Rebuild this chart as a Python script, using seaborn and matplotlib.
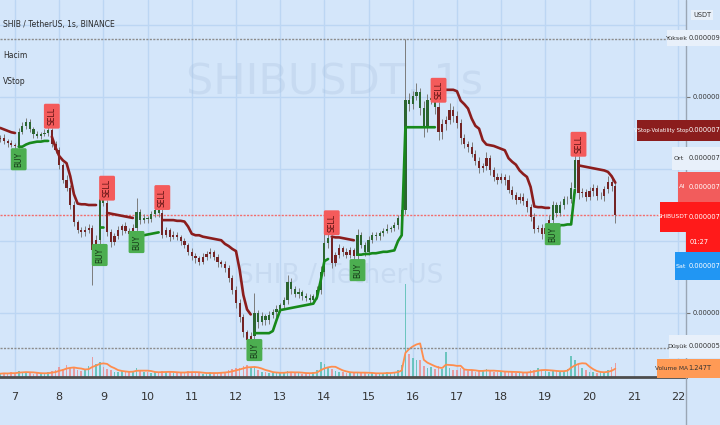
import matplotlib
matplotlib.use('Agg')
import matplotlib.pyplot as plt
from matplotlib import font_manager
from matplotlib.patches import Rectangle
from matplotlib.lines import Line2D
import numpy as np
import pandas as pd
import seaborn as sns

# 2 saatlik mumlar, ilk mum 6. gun 16:00
start_day = 6 + 16 / 24
bars_per_day = 12
days = list(range(7, 23))

# fiyatlar 1e-8 USDT biriminde
first_open = 841
closes = [
    843, 839, 836, 833, 832, 851, 860, 865, 855, 849,
    846, 849, 850, 854, 835, 826, 806, 785, 774, 750,
    726, 715, 712, 715, 718, 687, 701, 758, 753, 712,
    699, 707, 715, 721, 714, 710, 718, 740, 729, 732,
    730, 737, 743, 739, 709, 715, 706, 709, 706, 700,
    694, 685, 679, 676, 671, 678, 682, 685, 678, 671,
    668, 662, 649, 632, 614, 594, 574, 562, 568, 600,
    587, 596, 590, 597, 601, 606, 611, 618, 643, 633,
    626, 629, 624, 621, 618, 624, 632, 657, 697, 704,
    670, 681, 690, 685, 681, 687, 679, 708, 694, 685,
    701, 708, 707, 711, 714, 717, 718, 722, 732, 743,
    896, 890, 901, 907, 885, 860, 896, 899, 886, 852,
    862, 868, 882, 874, 864, 843, 835, 831, 821, 811,
    801, 804, 815, 799, 789, 785, 789, 785, 771, 764,
    757, 761, 756, 747, 733, 717, 718, 710, 718, 729,
    750, 739, 750, 758, 758, 774, 812, 766, 768, 761,
    769, 774, 762, 762, 772, 782, 776, 736]
wick_up = [
    4, 5, 3, 4, 3, 6, 5, 6, 4, 3,
    4, 3, 5, 10, 3, 4, 5, 3, 6, 4,
    5, 3, 4, 6, 5, 4, 7, 9, 5, 4,
    5, 4, 6, 3, 5, 4, 6, 20, 4, 5,
    3, 5, 6, 4, 5, 4, 3, 5, 4, 3,
    4, 3, 5, 4, 3, 6, 4, 5, 3, 4,
    3, 4, 5, 4, 6, 5, 4, 3, 5, 28,
    4, 5, 3, 6, 4, 5, 3, 4, 10, 5,
    4, 6, 3, 4, 5, 3, 6, 8, 14, 6,
    5, 4, 6, 3, 5, 4, 3, 8, 5, 4,
    6, 4, 5, 3, 4, 6, 3, 5, 4, 8,
    84, 10, 8, 12, 6, 9, 8, 10, 6, 7,
    8, 6, 9, 5, 7, 5, 6, 4, 7, 5,
    6, 4, 8, 5, 4, 6, 5, 4, 6, 5,
    4, 6, 5, 4, 5, 6, 4, 5, 6, 7,
    5, 4, 6, 5, 4, 8, 35, 6, 5, 4,
    6, 5, 4, 6, 5, 8, 6, 4]
wick_dn = [
    3, 4, 5, 3, 6, 4, 3, 5, 4, 6,
    3, 4, 3, 4, 5, 4, 6, 5, 4, 6,
    5, 4, 6, 5, 4, 48, 5, 6, 4, 5,
    7, 5, 4, 6, 3, 5, 4, 5, 6, 4,
    5, 3, 4, 6, 5, 4, 6, 3, 5, 6,
    4, 5, 6, 7, 5, 3, 4, 6, 5, 7,
    4, 5, 6, 5, 7, 6, 8, 11, 6, 5,
    8, 4, 6, 5, 4, 6, 5, 4, 5, 6,
    4, 5, 6, 4, 5, 4, 5, 6, 5, 7,
    8, 5, 4, 6, 5, 4, 6, 5, 4, 6,
    5, 4, 6, 5, 4, 3, 5, 4, 6, 5,
    6, 9, 7, 5, 10, 15, 8, 6, 9, 12,
    10, 8, 6, 9, 7, 8, 6, 7, 5, 6,
    7, 5, 6, 8, 5, 6, 4, 7, 5, 6,
    5, 4, 6, 7, 5, 6, 5, 7, 4, 6,
    5, 6, 4, 5, 6, 5, 7, 8, 5, 6,
    4, 6, 5, 4, 6, 5, 7, 11]
# Volatility Stop degerleri
stops = [
    857, 855, 853, 851, 850, 831, 831, 834, 836, 837,
    838, 838, 839, 839, 845, 830, 818, 812, 808, 790,
    765, 752, 751, 751, 750, 750, 750, 719, 719, 739,
    738, 737, 736, 735, 734, 733, 732, 706, 707, 708,
    709, 710, 711, 712, 729, 729, 729, 729, 728, 728,
    727, 720, 710, 708, 708, 706, 705, 704, 703, 702,
    701, 696, 693, 689, 686, 660, 625, 605, 598, 572,
    572, 572, 572, 572, 575, 590, 604, 605, 606, 607,
    608, 609, 610, 611, 612, 613, 622, 645, 672, 675,
    706, 705, 705, 704, 703, 702, 701, 681, 681, 682,
    682, 683, 683, 684, 685, 685, 686, 687, 700, 708,
    858, 858, 858, 858, 858, 858, 858, 858, 858, 910,
    910, 910, 910, 910, 908, 895, 890, 884, 870, 860,
    856, 840, 834, 833, 832, 830, 828, 826, 815, 810,
    806, 798, 793, 789, 775, 748, 747, 747, 746, 746,
    711, 716, 722, 722, 723, 723, 771, 805, 804, 803,
    802, 801, 800, 799, 798, 796, 790, 781]
# hacim, trilyon SHIB
volume = [
    0.5, 0.6, 0.5, 0.7, 0.6, 0.9, 0.8, 0.7, 0.6, 0.5,
    0.6, 0.5, 0.6, 0.7, 0.9, 1.0, 1.5, 1.2, 1.8, 1.4,
    1.3, 1.0, 0.9, 1.1, 1.6, 3.0, 2.0, 2.2, 1.5, 1.2,
    1.0, 0.8, 0.7, 0.9, 0.8, 0.7, 0.9, 1.4, 1.0, 0.8,
    0.7, 0.6, 0.7, 0.8, 0.9, 0.8, 0.7, 0.6, 0.6, 0.7,
    0.8, 0.9, 0.7, 0.6, 0.6, 0.5, 0.6, 0.7, 0.6, 0.6,
    0.7, 0.8, 1.0, 1.2, 1.3, 1.4, 1.6, 1.8, 1.3, 1.5,
    1.0, 0.8, 0.7, 0.6, 0.6, 0.7, 0.6, 0.7, 0.9, 0.7,
    0.6, 0.6, 0.5, 0.6, 0.6, 0.7, 1.0, 2.2, 2.0, 1.4,
    1.2, 0.9, 0.8, 0.7, 0.6, 0.6, 0.7, 0.8, 0.6, 0.6,
    0.5, 0.6, 0.5, 0.6, 0.6, 0.7, 0.6, 0.8, 1.0, 1.8,
    14.0, 3.5, 2.8, 2.5, 2.6, 1.6, 1.3, 1.5, 1.2, 1.6,
    1.2, 3.8, 1.3, 1.0, 1.1, 1.3, 1.0, 0.9, 1.0, 0.8,
    0.9, 1.0, 1.2, 0.9, 0.8, 0.7, 0.8, 0.9, 0.8, 0.7,
    0.6, 0.7, 0.6, 0.8, 1.0, 1.1, 1.3, 1.0, 0.9, 0.8,
    0.9, 1.0, 0.8, 0.9, 1.2, 3.2, 2.6, 2.0, 1.4, 1.0,
    0.8, 0.7, 0.6, 0.7, 0.8, 1.1, 1.5, 2.135]
vol_ma_len = 5
grid_prices = [1000, 900, 800, 700, 600]
label_prices = [900, 600]   # digerleri etiketlerin altinda kaliyor
bid, ask, avg_price = 735, 736, 739
countdown = '01:27'

W, H = 720, 425
BG = '#d4e6fa'
GRID = '#bcd6f3'

sns.set_theme(style='white')
names = {f.name for f in font_manager.fontManager.ttflist}
NARROW = 'Liberation Sans Narrow' if 'Liberation Sans Narrow' in names else 'DejaVu Sans'
plt.rcParams['font.family'] = [NARROW, 'DejaVu Sans']

n = len(closes)
opens = [first_open] + closes[:-1]
highs = [max(o, c) + w for o, c, w in zip(opens, closes, wick_up)]
lows = [min(o, c) - w for o, c, w in zip(opens, closes, wick_dn)]
df = pd.DataFrame({'bar': np.arange(n), 'open': opens, 'close': closes,
                   'high': highs, 'low': lows, 'stop': stops, 'vol': volume})
df['trend'] = np.where(df['close'] >= df['stop'], 'up', 'down')
df['seg'] = (df['trend'] != df['trend'].shift()).cumsum()
df['vol_ma'] = df['vol'].rolling(vol_ma_len, min_periods=1).mean()
flips = df.index[(df['trend'] != df['trend'].shift()) & (df.index > 0)]

fig = plt.figure(figsize=(W / 100, H / 100), dpi=100, facecolor=BG)
ax_bottom = 377
ax = fig.add_axes([0, (H - ax_bottom) / H, 686 / W, ax_bottom / H])
axv = ax.twinx()
ax.set_zorder(2)
ax.patch.set_visible(False)
axv.set_facecolor(BG)

x_left = -0.27 / 3.683
x_right = (686 - 0.27) / 3.683
ax.set_xlim(x_left, x_right)
y_lo, y_hi = 900 - (ax_bottom - 97) / 0.72, 900 + 97 / 0.72
ax.set_ylim(y_lo, y_hi)

# hacim
vol_top = 57
up_bar = df['close'] >= df['open']
axv.bar(df['bar'], df['vol'], width=0.45, linewidth=0, edgecolor='none',
        color=np.where(up_bar, '#52bdb1', '#ee8a8a'), alpha=0.8, zorder=1)
sns.lineplot(data=df, x='bar', y='vol_ma', ax=axv, color='#ff8d4d', lw=1.3, zorder=2)
axv.set_ylim(0, vol_top)
axv.set_xlim(x_left, x_right)
axv.set_yticks([])
axv.set_ylabel('')
for s in axv.spines.values():
    s.set_visible(False)

# grid
for d in days:
    axv.axvline((d - start_day) * bars_per_day, color=GRID, lw=1, zorder=0)
for p in grid_prices:
    axv.axhline((p - y_lo) / (y_hi - y_lo) * vol_top, color=GRID, lw=1, zorder=0)

# watermark
ax.text(335 / 686, 1 - 82 / ax_bottom, 'SHIBUSDT, 1s', transform=ax.transAxes,
        ha='center', va='center', fontsize=31, color='#a9c1de', alpha=0.3, zorder=0)
ax.text(340 / 686, 1 - 276 / ax_bottom, 'SHIB / TetherUS', transform=ax.transAxes,
        ha='center', va='center', fontsize=19, color='#a9c1de', alpha=0.3, zorder=0)

# yatay cizgiler
ax.axhline(max(highs), color='#8c8c8c', lw=1, ls=(0, (1.5, 1)), zorder=1)
ax.axhline(min(lows), color='#8c8c8c', lw=1, ls=(0, (1.5, 1)), zorder=1)
ax.axhline(closes[-1], color='#f26d6d', lw=1, ls=(0, (1.5, 1)), zorder=1)

# mumlar
body_col = np.where(df['trend'] == 'up', '#2c6530', '#732424')
ax.vlines(df['bar'], df['low'], df['high'], color='#7c7c7c', lw=0.7, zorder=3)
body_h = np.maximum((df['close'] - df['open']).abs(), 1.0)
ax.bar(df['bar'], body_h, bottom=np.minimum(df['open'], df['close']), width=0.6,
       color=body_col, linewidth=0, edgecolor='none', zorder=4)

# VStop
sns.lineplot(data=df, x='bar', y='stop', hue='trend', units='seg', estimator=None,
             palette={'up': '#17891b', 'down': '#8b1d1d'}, lw=1.9, legend=False,
             ax=ax, zorder=5)

for i in flips:
    if df.at[i, 'trend'] == 'up':
        ax.annotate('BUY', xy=(i, df.at[i, 'low']), xytext=(0, -2), textcoords='offset points',
                    ha='center', va='top', rotation=90, fontsize=5.5, color='#173a19',
                    bbox=dict(boxstyle='round,pad=0.45,rounding_size=0.2', fc='#4cae50', ec='none'),
                    zorder=6)
    else:
        ax.annotate('SELL', xy=(i, df.at[i, 'high']), xytext=(0, 2), textcoords='offset points',
                    ha='center', va='bottom', rotation=90, fontsize=5.5, color='#5a1010',
                    bbox=dict(boxstyle='round,pad=0.45,rounding_size=0.2', fc='#f45b5b', ec='none'),
                    zorder=6)

# eksenler
ax.set_xlabel('')
ax.set_ylabel('')
ax.set_xticks([(d - start_day) * bars_per_day for d in days])
ax.set_xticklabels([str(d) for d in days])
ax.tick_params(axis='x', length=4, width=0.8, color='#777777', pad=6.5, labelsize=8,
               labelcolor='#333333')
ax.yaxis.tick_right()
ax.set_yticks(label_prices)
ax.set_yticklabels([f'{p * 1e-8:.8f}' for p in label_prices])
ax.tick_params(axis='y', length=3, width=0.8, color='#777777', pad=2, labelsize=4.8,
               labelcolor='#333333')
for s in ['top', 'left', 'right']:
    ax.spines[s].set_visible(False)
ax.spines['bottom'].set_color('#4d4d4d')
ax.spines['bottom'].set_linewidth(2)
fig.lines.append(Line2D([686 / W, 686 / W], [0, 1], transform=fig.transFigure,
                        color='#9aa6b4', lw=1, zorder=4))

# sol ust yazilar
fig.text(3 / W, 1 - 25 / H, 'SHIB / TetherUS, 1s, BINANCE', fontsize=5.5, color='#2a2a2a', va='center')
fig.text(3 / W, 1 - 55 / H, 'Hacim', fontsize=5.5, color='#2a2a2a', va='center')
fig.text(3 / W, 1 - 82 / H, 'VStop', fontsize=5.5, color='#2a2a2a', va='center')


def box(x0, y0, x1, y1, color):
    fig.patches.append(Rectangle((x0 / W, 1 - y1 / H), (x1 - x0) / W, (y1 - y0) / H,
                                 transform=fig.transFigure, fc=color, ec='none', zorder=5))


def tag(label, x0, y0, y1, color, tcolor, value, y2=None, size=4.6):
    box(x0, y0, 686, y1, color)
    box(686, y0, W, y2 if y2 else y1, color)
    fig.text((x0 + 686) / 2 / W, 1 - (y0 + y1) / 2 / H, label, fontsize=size, color=tcolor,
             ha='center', va='center', zorder=6)
    fig.text(688.5 / W, 1 - (y0 + y1) / 2 / H, value, fontsize=4.8, color=tcolor,
             ha='left', va='center', zorder=6)


fmt = lambda p: f'{p * 1e-8:.8f}'
tag('Yüksek', 667, 30, 46, '#e8f0fa', '#333333', fmt(max(highs)))
tag('VStop·Volatility Stop', 637, 120, 141, '#8b1d1d', 'white', fmt(stops[-1]), size=3.9)
tag('Ort', 672, 147, 170, '#e8f0fa', '#333333', fmt(avg_price))
tag('Al', 678, 172, 202, '#f25c5c', 'white', fmt(ask))
tag('SHIBUSDT', 660, 202, 232, '#ff1a1a', 'white', fmt(closes[-1]), y2=252, size=4.3)
fig.text(690 / W, 1 - 242 / H, countdown, fontsize=4.8, color='white', va='center', zorder=6)
tag('Sat', 675, 252, 280, '#2196f3', 'white', fmt(bid))
tag('Düşük', 669, 335, 358, '#e8f0fa', '#333333', fmt(min(lows)))
tag('Volume MA', 657, 359, 378, '#ff9a55', '#333333', f'{df["vol_ma"].iloc[-1]:.3f}T', size=4.2)
fig.text(702 / W, 1 - 15 / H, 'USDT', fontsize=4.8, color='#333333', ha='center', va='center',
         bbox=dict(boxstyle='square,pad=0.3', fc='#e8f0fa', ec='none'), zorder=6)

fig.savefig('out.png', dpi=100, facecolor=BG)
